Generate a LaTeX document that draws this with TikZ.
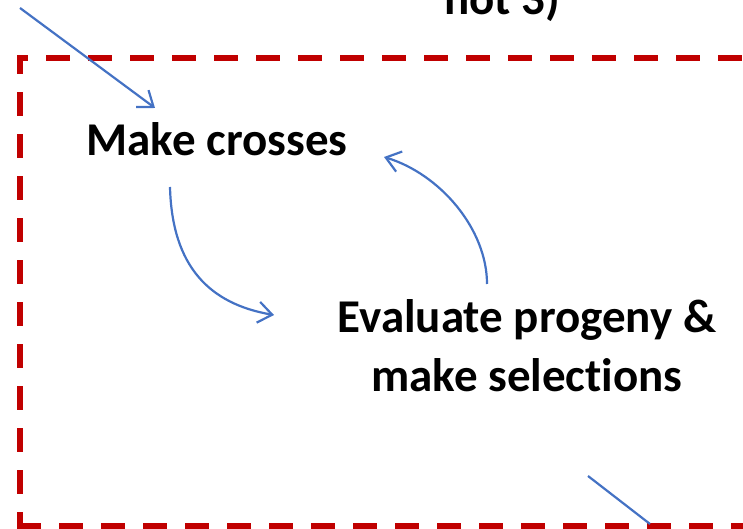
\documentclass[tikz,border=0pt]{standalone}
\usepackage{fontspec}
\setmainfont{Carlito}[Ligatures=NoCommon]
\usetikzlibrary{arrows.meta}
\definecolor{zyklusblau}{HTML}{4472C4}
\definecolor{rahmenrot}{HTML}{C00000}
\tikzset{
	pfeil/.style={draw=zyklusblau, line width=2.2pt, -{Straight Barb[length=14pt,width=21pt]}},
	linie/.style={draw=zyklusblau, line width=2.2pt},
	schritt/.style={font=\fontsize{47}{59}\selectfont\bfseries, align=center, inner sep=0pt},
	rahmen/.style={draw=rahmenrot, line width=6pt, dash pattern=on 24pt off 18pt}
}
\begin{document}
\begin{tikzpicture}[x=1pt, y=1pt]
	\useasboundingbox (0,0) rectangle (743,529);
	% Rahmen
	\draw[rahmen] (17,3) -- (760,3);
	\draw[rahmen, dash phase=7pt] (20,0) -- (20,474);
	\draw[rahmen, dash phase=13pt] (17,471) -- (760,471);
	% Texte
	\node[schritt, anchor=base] (oben) at (502,514) {not 3)};
	\node[schritt, anchor=base] (kreuzung) at (217,373) {Make crosses};
	\node[schritt, anchor=base] (auswahl) at (527,137) {Evaluate progeny \&\\make selections};
	% Pfeile
	\coordinate (einlauf) at (20,521);
	\coordinate (einlauf-ende) at (155,421);
	\coordinate (kreuzung-aus) at (170,342);
	\coordinate (auswahl-ein) at (274,214);
	\coordinate (auswahl-aus) at (487,245);
	\coordinate (kreuzung-ein) at (384,372);
	\coordinate (auslauf) at (588,53);
	\coordinate (auslauf-ende) at (650,5);
	\draw[pfeil] (einlauf) -- (einlauf-ende);
	\draw[pfeil] (kreuzung-aus) .. controls (172,262) and (210,225) .. (auswahl-ein);
	\draw[pfeil] (auswahl-aus) .. controls (487,300) and (440,355) .. (kreuzung-ein);
	\draw[linie] (auslauf) -- (auslauf-ende);
\end{tikzpicture}
\end{document}
